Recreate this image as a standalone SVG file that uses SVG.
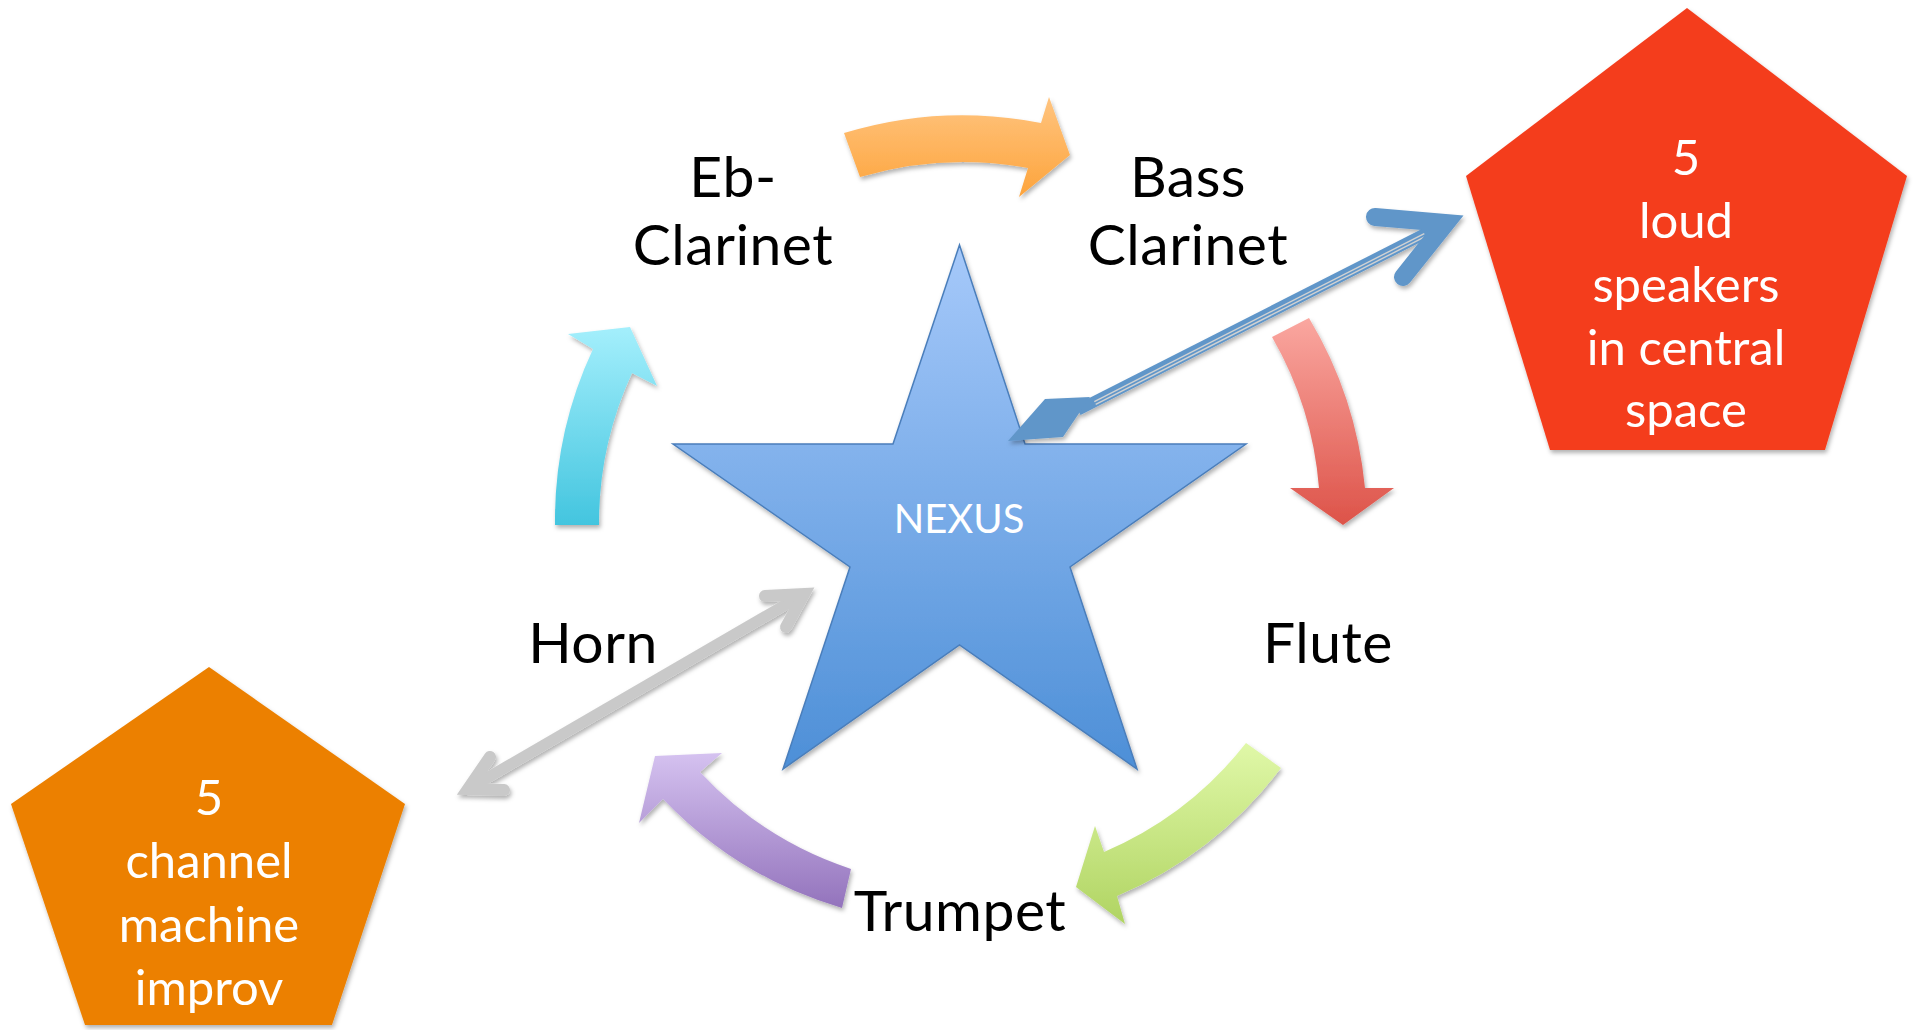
<svg xmlns="http://www.w3.org/2000/svg" width="1919" height="1030" viewBox="0 0 1919 1030">
  <defs>
    <filter id="sh" x="-20%" y="-20%" width="140%" height="140%">
      <feDropShadow dx="1.5" dy="3" stdDeviation="2" flood-color="#000" flood-opacity="0.3"/>
    </filter>
    <linearGradient id="gStar" x1="0" y1="0" x2="0" y2="1">
      <stop offset="0" stop-color="#a6c9fa"/>
      <stop offset="1" stop-color="#4d8fd7"/>
    </linearGradient>
    <linearGradient id="gOrange" x1="0" y1="0" x2="0" y2="1">
      <stop offset="0" stop-color="#ffc47f"/>
      <stop offset="1" stop-color="#fda43c"/>
    </linearGradient>
    <linearGradient id="gRed" x1="0" y1="0" x2="0" y2="1">
      <stop offset="0" stop-color="#faa7a0"/>
      <stop offset="1" stop-color="#dd5349"/>
    </linearGradient>
    <linearGradient id="gGreen" x1="0" y1="0" x2="0" y2="1">
      <stop offset="0" stop-color="#e0f8a8"/>
      <stop offset="1" stop-color="#b0d462"/>
    </linearGradient>
    <linearGradient id="gPurple" x1="0" y1="0" x2="0" y2="1">
      <stop offset="0" stop-color="#d5c2f0"/>
      <stop offset="1" stop-color="#9373bc"/>
    </linearGradient>
    <linearGradient id="gCyan" x1="0" y1="0" x2="0" y2="1">
      <stop offset="0" stop-color="#a4effc"/>
      <stop offset="1" stop-color="#43c5df"/>
    </linearGradient>
  </defs>
  <style>
    .lbl { font-family: Lato, "Open Sans", sans-serif; font-size: 57px; letter-spacing: 0.5px; fill: #000; text-anchor: middle; }
    .wt { font-family: Lato, "Open Sans", sans-serif; font-size: 49px; fill: #fff; text-anchor: middle; }
    .nx { font-family: Lato, "Open Sans", sans-serif; font-size: 40px; fill: #fff; text-anchor: middle; }
    .cyc { filter: url(#sh); }
  </style>
  <rect width="1919" height="1030" fill="#fff"/>

  <g id="nexus">
    <polygon points="959.5,245 1025,444 1246,444 1070,567 1137,769 959.5,645 783,769 850,567 673,444 893,444" fill="url(#gStar)" stroke="#4a7ebb" stroke-width="1.5" filter="url(#sh)"/>
    <text class="nx" x="959" y="533">NEXUS</text>
  </g>

  <g id="connectors">
    <path class="cyc" d="M 844,133 A 405 405 0 0 1 1041,123 L 1049,97 L 1070,155 L 1019,197 L 1028,168 A 360 360 0 0 0 860,177 Z" fill="url(#gOrange)"/>
    <path class="cyc" d="M 1309,318 A 405 405 0 0 1 1365,488 L 1394,488 L 1343,525 L 1290,488 L 1319,488 A 360 360 0 0 0 1272,337 Z" fill="url(#gRed)"/>
    <path class="cyc" d="M 1281,768 A 405 405 0 0 1 1117,896 L 1125,924 L 1076,887 L 1095,826 L 1104,852 A 360 360 0 0 0 1246,743 Z" fill="url(#gGreen)"/>
    <path class="cyc" d="M 842,908 A 405 405 0 0 1 663,799 L 639,823 L 655,756 L 722,753 L 700,772 A 360 360 0 0 0 851,869 Z" fill="url(#gPurple)"/>
    <path class="cyc" d="M 555,525 A 405 405 0 0 1 593,349 L 568,334 L 630,327 L 657,386 L 632,373 A 360 360 0 0 0 599,525 Z" fill="url(#gCyan)"/>

    <g id="link-speakers" filter="url(#sh)">
      <line x1="1078" y1="410" x2="1440" y2="226" stroke="#6096c9" stroke-width="11"/>
      <line x1="1095" y1="403" x2="1425" y2="235" stroke="#d2d2d2" stroke-width="1.4" transform="translate(0.7,1.4)"/>
      <line x1="1095" y1="403" x2="1425" y2="235" stroke="#d2d2d2" stroke-width="1.4" transform="translate(-0.7,-1.4)"/>
      <polygon points="1008,441 1045,399 1090,397 1063,437" fill="#6096c9"/>
      <polyline points="1375,217 1446,223 1403,277" fill="none" stroke="#6096c9" stroke-width="18" stroke-linejoin="miter" stroke-linecap="round"/>
    </g>

    <g id="link-machine" filter="url(#sh)">
      <line x1="468" y1="789" x2="804" y2="594" stroke="#c9c9c9" stroke-width="11"/>
      <polyline points="490,757 468,789 504,790" fill="none" stroke="#c9c9c9" stroke-width="12" stroke-linejoin="miter" stroke-linecap="round"/>
      <polyline points="765,596 804,594 786,627" fill="none" stroke="#c9c9c9" stroke-width="12" stroke-linejoin="miter" stroke-linecap="round"/>
    </g>
  </g>

  <g id="eb-clarinet">
    <text class="lbl" x="733" y="197">Eb-</text>
    <text class="lbl" x="733" y="265">Clarinet</text>
  </g>
  <g id="bass-clarinet">
    <text class="lbl" x="1188" y="197">Bass</text>
    <text class="lbl" x="1188" y="265">Clarinet</text>
  </g>
  <g id="flute">
    <text class="lbl" x="1328" y="663">Flute</text>
  </g>
  <g id="trumpet">
    <text class="lbl" x="960" y="931">Trumpet</text>
  </g>
  <g id="horn">
    <text class="lbl" x="593" y="663">Horn</text>
  </g>

  <g id="speakers">
    <polygon points="1687,8 1907,176 1825,450 1550,450 1466,176" fill="#f43d1e" filter="url(#sh)"/>
    <text class="wt" x="1686" y="175">5</text>
    <text class="wt" x="1686" y="238">loud</text>
    <text class="wt" x="1686" y="302">speakers</text>
    <text class="wt" x="1686" y="365">in central</text>
    <text class="wt" x="1686" y="427">space</text>
  </g>

  <g id="machine">
    <polygon points="209,667 405,804 332,1025 85,1025 11,804" fill="#ec8006" filter="url(#sh)"/>
    <text class="wt" x="209" y="815">5</text>
    <text class="wt" x="209" y="878">channel</text>
    <text class="wt" x="209" y="942">machine</text>
    <text class="wt" x="209" y="1005">improv</text>
  </g>
</svg>
